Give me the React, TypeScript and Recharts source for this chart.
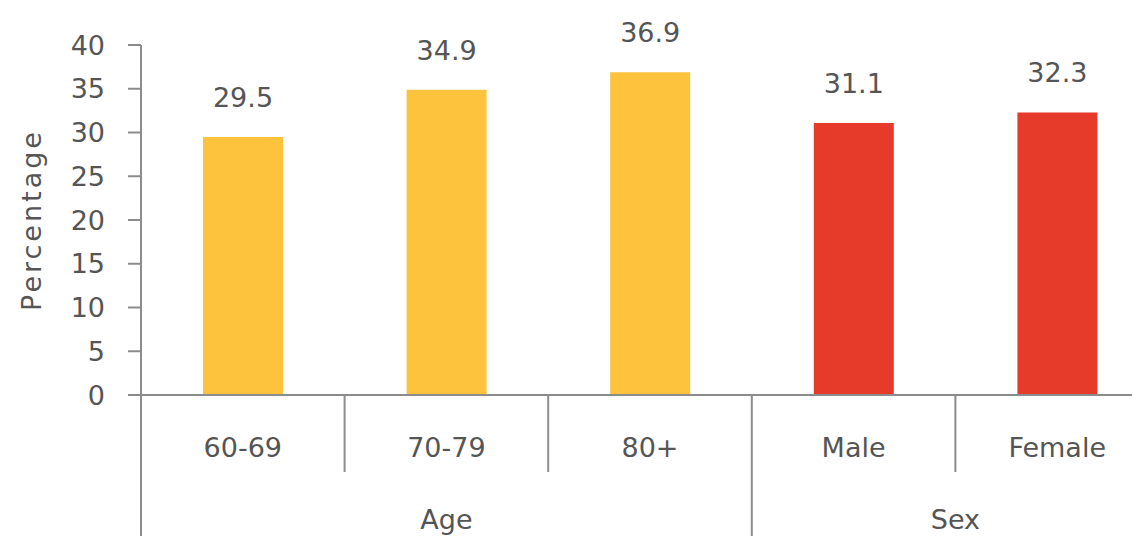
import React from 'react';
import { Bar, BarChart, Cell, LabelList, XAxis, YAxis } from 'recharts';

const categories = ['60-69', '70-79', '80+', 'Male', 'Female'];
const groups = ['Age', 'Age', 'Age', 'Sex', 'Sex'];
const values = [29.5, 34.9, 36.9, 31.1, 32.3];
const yTicks = [0, 5, 10, 15, 20, 25, 30, 35, 40];

const groupColor: Record<string, string> = { Age: '#FDC33C', Sex: '#E63B2B' };
const TEXT = '#555555';
const AXIS = '#8C8C8C';
const FONT = '"DejaVu Sans", sans-serif';

const data = categories.map((c, i) => ({ name: c, group: groups[i], value: values[i] }));

function CategoryTick(props: any) {
  const { x, y, payload, index } = props;
  const half = payload?.offset ?? 101.75;
  const bottom = 141;
  const group = groups[index];
  const isLast = index === categories.length - 1;
  const groupEnds = !isLast && groups[index + 1] !== group;
  const groupStarts = index === 0 || groups[index - 1] !== group;
  const count = groups.filter((g) => g === group).length;
  return (
    <g>
      {index === 0 && <line x1={x - half} x2={x - half} y1={y} y2={y + bottom} stroke={AXIS} strokeWidth={2} />}
      {!isLast && (
        <line x1={x + half} x2={x + half} y1={y} y2={y + (groupEnds ? bottom : 77)} stroke={AXIS} strokeWidth={2} />
      )}
      <text x={x} y={y + 52} textAnchor="middle" dominantBaseline="central" fill={TEXT} fontSize={27} fontFamily={FONT}>
        {payload.value}
      </text>
      {groupStarts && (
        <text x={x + (count - 1) * half} y={y + 124} textAnchor="middle" dominantBaseline="central" fill={TEXT} fontSize={27} fontFamily={FONT}>
          {group}
        </text>
      )}
    </g>
  );
}

function YLabel(props: any) {
  const vb = props.viewBox || {};
  const cx = 31;
  const cy = (vb.y ?? 45) + (vb.height ?? 350) / 2;
  return (
    <text x={cx} y={cy} transform={`rotate(-90 ${cx} ${cy})`} textAnchor="middle" dominantBaseline="central" fill={TEXT} fontSize={27} fontFamily={FONT} letterSpacing={3}>
      Percentage
    </text>
  );
}

export default function App() {
  return (
    <div style={{ width: 1132, height: 536, overflow: 'hidden', background: '#fff' }}>
      <style>{'body{margin:0}'}</style>
      <BarChart width={1159} height={536} data={data} margin={{ top: 45, right: 0, bottom: 0, left: 0 }}>
        <XAxis
          dataKey="name"
          height={141}
          axisLine={{ stroke: AXIS, strokeWidth: 2 }}
          tickLine={false}
          tickSize={0}
          tickMargin={0}
          interval={0}
          tick={<CategoryTick />}
        />
        <YAxis
          width={141}
          domain={[0, 40]}
          ticks={yTicks}
          interval={0}
          axisLine={{ stroke: AXIS, strokeWidth: 2 }}
          tickLine={{ stroke: AXIS, strokeWidth: 2 }}
          tickSize={13}
          tickMargin={23}
          tick={{ fill: TEXT, fontSize: 27, fontFamily: FONT }}
          label={<YLabel />}
        />
        <Bar dataKey="value" barSize={80} isAnimationActive={false}>
          {data.map((d, i) => (
            <Cell key={i} fill={groupColor[d.group]} />
          ))}
          <LabelList dataKey="value" position="top" offset={30} fill={TEXT} fontSize={27} fontFamily={FONT} formatter={(v: any) => Number(v).toFixed(1)} />
        </Bar>
      </BarChart>
    </div>
  );
}
